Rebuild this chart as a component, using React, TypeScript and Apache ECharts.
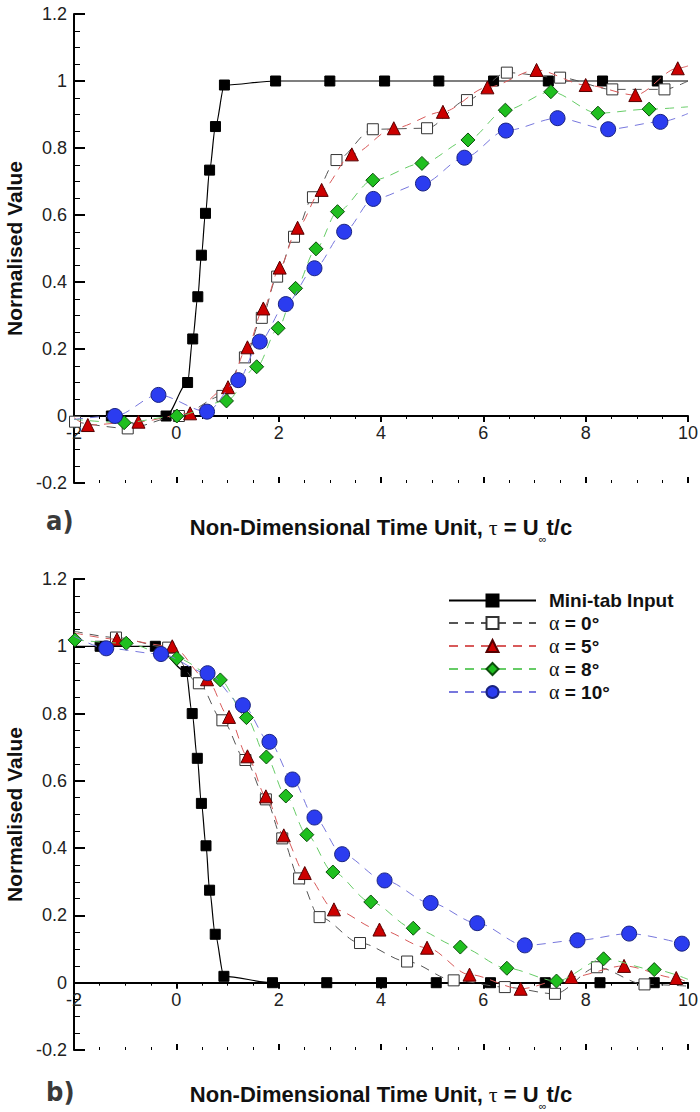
import React, { useEffect, useRef } from "react";
import * as echarts from "echarts";

type Pt = [number, number];

const seriesNames = ["Mini-tab Input", "α = 0°", "α = 5°", "α = 8°", "α = 10°"];
const panelLabels = ["a)", "b)"];
const yAxisTitle = "Normalised Value";

// ---------- panel a) ----------
const aInput: Pt[] = [
  [-1.27, 0], [-0.2, 0], [0.22, 0.1], [0.32, 0.23], [0.42, 0.356], [0.49, 0.48],
  [0.57, 0.605], [0.65, 0.734], [0.765, 0.864], [0.94, 0.988], [1.94, 1], [3.0, 1],
  [4.07, 1], [5.13, 1], [6.2, 1], [7.27, 1], [8.33, 1], [9.4, 1],
];
const aInputEnds: (Pt | null)[] = [[-2, 0], [10, 1]];

const aA0: Pt[] = [
  [-1.98, -0.017], [-0.95, -0.037], [0.05, 0], [0.9, 0.06], [1.34, 0.175], [1.67, 0.293],
  [1.97, 0.416], [2.3, 0.535], [2.67, 0.653], [3.13, 0.764], [3.84, 0.856], [4.9, 0.859],
  [5.68, 0.943], [6.46, 1.025], [7.5, 1.01], [8.52, 0.975], [9.54, 0.975],
];
const aA0Ends: (Pt | null)[] = [null, [10, 1.0]];

const aA5: Pt[] = [
  [-1.73, -0.027], [-0.74, -0.017], [0.27, 0.008], [1.01, 0.086], [1.39, 0.205], [1.7, 0.321],
  [2.02, 0.443], [2.37, 0.562], [2.84, 0.675], [3.43, 0.781], [4.25, 0.859], [5.21, 0.908],
  [6.08, 0.981], [7.04, 1.033], [8.0, 0.988], [8.97, 0.958], [9.8, 1.038],
];
const aA5Ends: (Pt | null)[] = [[-2, -0.005], [10, 1.045]];

const aA8: Pt[] = [
  [-1.02, -0.02], [0.01, 0], [0.98, 0.045], [1.57, 0.147], [1.99, 0.262], [2.33, 0.381],
  [2.73, 0.499], [3.15, 0.61], [3.84, 0.704], [4.8, 0.754], [5.7, 0.824], [6.43, 0.913],
  [7.32, 0.968], [8.24, 0.904], [9.24, 0.916],
];
const aA8Ends: (Pt | null)[] = [[-2, -0.01], [10, 0.923]];

const aA10: Pt[] = [
  [-1.2, 0], [-0.35, 0.063], [0.6, 0.013], [1.21, 0.107], [1.63, 0.222], [2.14, 0.334],
  [2.7, 0.441], [3.28, 0.55], [3.85, 0.648], [4.82, 0.694], [5.63, 0.771], [6.44, 0.852],
  [7.45, 0.889], [8.44, 0.856], [9.46, 0.878],
];
const aA10Ends: (Pt | null)[] = [[-2, -0.01], [10, 0.903]];

// ---------- panel b) ----------
const bInput: Pt[] = [
  [-1.49, 1], [-0.41, 1], [0.19, 0.925], [0.31, 0.8], [0.41, 0.667], [0.49, 0.533],
  [0.58, 0.407], [0.65, 0.275], [0.76, 0.144], [0.93, 0.019], [1.88, 0], [2.94, 0],
  [4.01, 0], [5.08, 0], [6.14, 0], [7.21, 0], [8.28, 0], [9.34, 0],
];
const bInputEnds: (Pt | null)[] = [[-2, 1], [10, 0]];

const bA0: Pt[] = [
  [-1.18, 1.026], [-0.16, 0.996], [0.44, 0.89], [0.9, 0.78], [1.35, 0.662], [1.75, 0.545],
  [2.07, 0.429], [2.4, 0.31], [2.8, 0.195], [3.59, 0.118], [4.51, 0.063], [5.42, 0.007],
  [6.42, -0.013], [7.4, -0.033], [8.22, 0.046], [9.15, -0.005],
];
const bA0Ends: (Pt | null)[] = [[-2, 1.045], [10, -0.01]];

const bA5: Pt[] = [
  [-1.16, 1.021], [-0.08, 1.0], [0.6, 0.902], [1.03, 0.79], [1.39, 0.673], [1.75, 0.554],
  [2.1, 0.438], [2.51, 0.326], [3.08, 0.218], [3.97, 0.158], [4.9, 0.104], [5.73, 0.024],
  [6.73, -0.018], [7.72, 0.017], [8.75, 0.05], [9.77, 0.014],
];
const bA5Ends: (Pt | null)[] = [[-2, 1.04], [10, 0.0]];

const bA8: Pt[] = [
  [-1.98, 1.019], [-0.98, 1.009], [0.01, 0.964], [0.86, 0.9], [1.37, 0.788], [1.76, 0.671],
  [2.14, 0.555], [2.55, 0.44], [3.06, 0.329], [3.8, 0.24], [4.63, 0.162], [5.55, 0.106],
  [6.46, 0.043], [7.43, 0.005], [8.35, 0.071], [9.34, 0.039],
];
const bA8Ends: (Pt | null)[] = [null, [10, 0.01]];

const bA10: Pt[] = [
  [-1.37, 0.994], [-0.3, 0.977], [0.61, 0.92], [1.3, 0.825], [1.82, 0.716], [2.27, 0.604],
  [2.7, 0.491], [3.24, 0.382], [4.07, 0.304], [4.97, 0.237], [5.88, 0.177], [6.81, 0.111],
  [7.84, 0.126], [8.85, 0.146], [9.88, 0.116],
];
const bA10Ends: (Pt | null)[] = [[-2, 1.03], null];

const FONT = "Liberation Sans, Arial, sans-serif";
const SERIF = "Liberation Serif, DejaVu Serif, serif";

const styles = [
  { symbol: "rect", size: 10, fill: "#000000", border: "#000000", line: "#000000", dashed: false, lw: 1.2 },
  { symbol: "rect", size: 11, fill: "#ffffff", border: "#333333", line: "#555555", dashed: true, lw: 1 },
  { symbol: "triangle", size: 13, fill: "#cc0000", border: "#550000", line: "#d85a5a", dashed: true, lw: 1 },
  { symbol: "diamond", size: 14, fill: "#1fbf1f", border: "#0d4d0d", line: "#66cc66", dashed: true, lw: 1 },
  { symbol: "circle", size: 15, fill: "#2b3cf0", border: "#1a2380", line: "#7777dd", dashed: true, lw: 1 },
];

function buildData(marks: Pt[], ends: (Pt | null)[]) {
  const out: any[] = [];
  if (ends[0]) out.push({ value: ends[0], symbol: "none" });
  marks.forEach((p) => out.push({ value: p }));
  if (ends[1]) out.push({ value: ends[1], symbol: "none" });
  return out;
}

function makeSeries(idx: number, marks: Pt[], ends: (Pt | null)[], panel: number) {
  const s = styles[idx];
  return {
    type: "line",
    name: seriesNames[idx],
    xAxisIndex: panel * 3,
    yAxisIndex: panel,
    data: buildData(marks, ends),
    symbol: s.symbol,
    symbolSize: s.size,
    smooth: 0.3,
    smoothMonotone: "x",
    silent: true,
    itemStyle: { color: s.fill, borderColor: s.border, borderWidth: 1 },
    lineStyle: { color: s.line, width: s.lw, type: s.dashed ? [9, 7] : "solid" },
    emphasis: { disabled: true },
    z: 2 + idx,
  };
}

const tickRich = {
  v: { fontFamily: FONT, fontSize: 18, color: "#222", lineHeight: 20 },
};
const fmtTick = (v: number) => `{v|${parseFloat(v.toFixed(2))}}`;

const xName = "{b|Non-Dimensional Time Unit, }{g|τ}{b| = U}{s|∞}{b|t/c}";
const xNameRich = {
  b: { fontFamily: FONT, fontWeight: "bold", fontSize: 22, color: "#111", lineHeight: 24, verticalAlign: "bottom" },
  g: { fontFamily: SERIF, fontSize: 22, color: "#111", lineHeight: 24, verticalAlign: "bottom" },
  s: { fontFamily: FONT, fontSize: 11, color: "#111", lineHeight: 24, verticalAlign: "bottom", padding: [0, 0, -6, 0] },
};

function xAxes(gridIndex: number) {
  const common = {
    type: "value",
    gridIndex,
    min: -2,
    max: 10,
    interval: 2,
    position: "bottom",
    splitLine: { show: false },
  };
  return [
    {
      ...common,
      axisLine: { show: true, onZero: true, lineStyle: { color: "#000", width: 2 } },
      axisTick: { show: true, inside: false, length: 6, lineStyle: { color: "#000", width: 2 } },
      minorTick: { show: true, splitNumber: 4, length: 3, lineStyle: { color: "#000", width: 1 } },
      axisLabel: { show: false },
    },
    {
      ...common,
      axisLine: { show: false, onZero: true },
      axisTick: { show: true, inside: true, length: 6, lineStyle: { color: "#000", width: 2 } },
      minorTick: { show: true, splitNumber: 4, length: 3, lineStyle: { color: "#000", width: 1 } },
      axisLabel: { show: false },
    },
    {
      ...common,
      axisLine: { show: false, onZero: false },
      axisTick: { show: false },
      minorTick: { show: false },
      axisLabel: { show: true, margin: -60, formatter: fmtTick, rich: tickRich },
      name: xName,
      nameLocation: "middle",
      nameGap: 31,
      nameTextStyle: { rich: xNameRich },
    },
  ];
}

function yAxis(gridIndex: number) {
  return {
    type: "value",
    gridIndex,
    min: -0.2,
    max: 1.2,
    interval: 0.2,
    splitLine: { show: false },
    axisLine: { show: true, onZero: false, lineStyle: { color: "#000", width: 2 } },
    axisTick: { show: true, inside: true, length: 11, lineStyle: { color: "#000", width: 2 } },
    minorTick: { show: true, splitNumber: 4, length: 6, lineStyle: { color: "#000", width: 1 } },
    axisLabel: { margin: 7, formatter: fmtTick, rich: tickRich },
    name: `{n|${yAxisTitle}}`,
    nameLocation: "middle",
    nameGap: 38,
    nameTextStyle: {
      rich: { n: { fontFamily: FONT, fontWeight: "bold", fontSize: 21, color: "#111", lineHeight: 24 } },
    },
  };
}

export default function App() {
  const ref = useRef<HTMLDivElement>(null);
  useEffect(() => {
    if (!ref.current) return;
    const chart = echarts.init(ref.current, undefined, { renderer: "svg" });
    const labelFont = 'bold 27px "Liberation Sans Narrow", "DejaVu Sans Condensed", sans-serif';
    const option: any = {
      animation: false,
      backgroundColor: "#ffffff",
      grid: [
        { left: 74, right: 12, top: 14, height: 469, outerBoundsMode: "none" },
        { left: 74, right: 12, top: 579, height: 471, outerBoundsMode: "none" },
      ],
      xAxis: [...xAxes(0), ...xAxes(1)],
      yAxis: [yAxis(0), yAxis(1)],
      legend: {
        show: true,
        orient: "vertical",
        left: 443,
        top: 586,
        itemWidth: 87,
        itemHeight: 15,
        itemGap: 3,
        selectedMode: false,
        data: seriesNames,
        formatter: (name: string) =>
          name.startsWith("α") ? `{g|α}{b|${name.slice(1)}}` : `{b|${name}}`,
        textStyle: {
          padding: [0, 0, 0, 8],
          rich: {
            b: { fontFamily: FONT, fontWeight: "bold", fontSize: 19, color: "#111", lineHeight: 20 },
            g: { fontFamily: SERIF, fontSize: 20, color: "#111", lineHeight: 20 },
          },
        },
      },
      graphic: [
        {
          type: "text",
          left: 46,
          top: 507,
          style: { text: panelLabels[0], font: labelFont, fill: "#3a3a3a" },
        },
        {
          type: "text",
          left: 46,
          top: 1078,
          style: { text: panelLabels[1], font: labelFont, fill: "#3a3a3a" },
        },
      ],
      series: [
        makeSeries(0, aInput, aInputEnds, 0),
        makeSeries(1, aA0, aA0Ends, 0),
        makeSeries(2, aA5, aA5Ends, 0),
        makeSeries(3, aA8, aA8Ends, 0),
        makeSeries(4, aA10, aA10Ends, 0),
        makeSeries(0, bInput, bInputEnds, 1),
        makeSeries(1, bA0, bA0Ends, 1),
        makeSeries(2, bA5, bA5Ends, 1),
        makeSeries(3, bA8, bA8Ends, 1),
        makeSeries(4, bA10, bA10Ends, 1),
      ],
    };
    chart.setOption(option);
    return () => chart.dispose();
  }, []);
  return (
    <div
      ref={ref}
      style={{ position: "absolute", left: 0, top: 0, width: 700, height: 1112, background: "#fff" }}
    />
  );
}
